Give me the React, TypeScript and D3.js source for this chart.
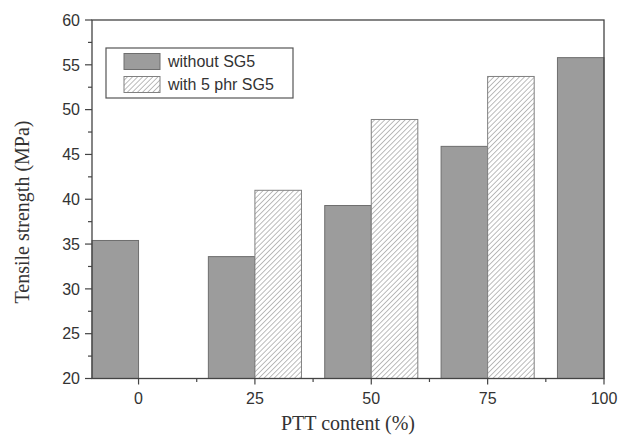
import React, { useEffect, useRef } from 'react';
import * as d3 from 'd3';

const categories = [0, 25, 50, 75, 100];
const withoutSG5 = [35.4, 33.6, 39.3, 45.9, 55.8];
const withSG5: (number | null)[] = [null, 41.0, 48.9, 53.7, null];
const xTicks = [0, 25, 50, 75, 100];
const xMinorTicks = [12.5, 37.5, 62.5, 87.5];
const yTicks = [20, 25, 30, 35, 40, 45, 50, 55, 60];
const yMinorTicks = d3.range(22.5, 60, 5);
const legendLabels = ['without SG5', 'with 5 phr SG5'];

const App = () => {
  const svgRef = useRef<SVGSVGElement>(null);

  useEffect(() => {
    const svg = d3.select(svgRef.current);
    svg.selectAll('*').remove();

    const width = 622;
    const height = 437;
    const margin = { top: 20, right: 18, bottom: 58.5, left: 92 };
    const barW = 10;
    const sans = 'Liberation Sans, Arial, sans-serif';
    const serif = 'Liberation Serif, Times New Roman, serif';

    const x = d3.scaleLinear().domain([-10, 100]).range([margin.left, width - margin.right]);
    const y = d3.scaleLinear().domain([20, 60]).range([height - margin.bottom, margin.top]);

    const defs = svg.append('defs');
    const pat = defs.append('pattern')
      .attr('id', 'hatch')
      .attr('patternUnits', 'userSpaceOnUse')
      .attr('width', 3.6)
      .attr('height', 3.6)
      .attr('patternTransform', 'rotate(45)');
    pat.append('rect').attr('width', 3.6).attr('height', 3.6).attr('fill', '#fff');
    pat.append('line')
      .attr('x1', 0).attr('y1', 0).attr('x2', 0).attr('y2', 3.6)
      .attr('stroke', '#7a7a7a').attr('stroke-width', 1);

    svg.append('rect').attr('width', width).attr('height', height).attr('fill', '#fff');

    // bars
    svg.append('g').selectAll('rect')
      .data(categories.map((c, i) => ({ c, v: withoutSG5[i] })))
      .join('rect')
      .attr('x', d => x(d.c - barW))
      .attr('y', d => y(d.v))
      .attr('width', d => x(d.c) - x(d.c - barW))
      .attr('height', d => y(20) - y(d.v))
      .attr('fill', '#9c9c9c')
      .attr('stroke', '#6e6e6e')
      .attr('stroke-width', 1);

    svg.append('g').selectAll('rect')
      .data(categories.map((c, i) => ({ c, v: withSG5[i] })).filter(d => d.v !== null) as { c: number; v: number }[])
      .join('rect')
      .attr('x', d => x(d.c))
      .attr('y', d => y(d.v))
      .attr('width', d => x(d.c + barW) - x(d.c))
      .attr('height', d => y(20) - y(d.v))
      .attr('fill', 'url(#hatch)')
      .attr('stroke', '#808080')
      .attr('stroke-width', 1);

    // frame
    svg.append('rect')
      .attr('x', margin.left).attr('y', margin.top)
      .attr('width', width - margin.left - margin.right)
      .attr('height', height - margin.top - margin.bottom)
      .attr('fill', 'none').attr('stroke', '#444').attr('stroke-width', 1.3);

    const axisColor = '#444';
    const xAxis = svg.append('g').attr('transform', `translate(0,${y(20)})`);
    xAxis.selectAll('line.major').data(xTicks).join('line')
      .attr('x1', d => x(d)).attr('x2', d => x(d)).attr('y1', 0).attr('y2', 6)
      .attr('stroke', axisColor).attr('stroke-width', 1.2);
    xAxis.selectAll('line.minor').data(xMinorTicks).join('line')
      .attr('x1', d => x(d)).attr('x2', d => x(d)).attr('y1', 0).attr('y2', 3.5)
      .attr('stroke', axisColor).attr('stroke-width', 1.2);
    xAxis.selectAll('text').data(xTicks).join('text')
      .attr('x', d => x(d)).attr('y', 25.5)
      .attr('text-anchor', 'middle')
      .attr('font-family', sans).attr('font-size', 16).attr('fill', '#333')
      .text(d => d);

    const yAxis = svg.append('g').attr('transform', `translate(${margin.left},0)`);
    yAxis.selectAll('line.major').data(yTicks).join('line')
      .attr('x1', -7).attr('x2', 0).attr('y1', d => y(d)).attr('y2', d => y(d))
      .attr('stroke', axisColor).attr('stroke-width', 1.2);
    yAxis.selectAll('line.minor').data(yMinorTicks).join('line')
      .attr('x1', -4).attr('x2', 0).attr('y1', d => y(d)).attr('y2', d => y(d))
      .attr('stroke', axisColor).attr('stroke-width', 1.2);
    yAxis.selectAll('text').data(yTicks).join('text')
      .attr('x', -12).attr('y', d => y(d))
      .attr('dy', '0.36em')
      .attr('text-anchor', 'end')
      .attr('font-family', sans).attr('font-size', 16).attr('fill', '#333')
      .text(d => d);

    // axis titles
    svg.append('text')
      .attr('x', (margin.left + width - margin.right) / 2).attr('y', 430)
      .attr('text-anchor', 'middle')
      .attr('font-family', serif).attr('font-size', 20).attr('fill', '#333')
      .text('PTT content (%)');
    svg.append('text')
      .attr('transform', 'translate(29,212) rotate(-90)')
      .attr('text-anchor', 'middle')
      .attr('font-family', serif).attr('font-size', 20).attr('fill', '#333')
      .text('Tensile strength (MPa)');

    // legend
    const lg = svg.append('g');
    lg.append('rect')
      .attr('x', 106).attr('y', 48).attr('width', 187).attr('height', 50)
      .attr('fill', '#fff').attr('stroke', '#555').attr('stroke-width', 1.2);
    lg.selectAll('rect.sw').data(legendLabels).join('rect')
      .attr('class', 'sw')
      .attr('x', 124).attr('y', (d, i) => 53.5 + i * 23)
      .attr('width', 36).attr('height', 16)
      .attr('fill', (d, i) => (i === 0 ? '#9c9c9c' : 'url(#hatch)'))
      .attr('stroke', (d, i) => (i === 0 ? '#6e6e6e' : '#808080'));
    lg.selectAll('text').data(legendLabels).join('text')
      .attr('x', 168).attr('y', (d, i) => 67 + i * 23)
      .attr('font-family', sans).attr('font-size', 16).attr('fill', '#333')
      .text(d => d);
  }, []);

  return (
    <div>
      <svg ref={svgRef} width={622} height={437} style={{ position: 'absolute', left: 0, top: 0 }}></svg>
    </div>
  );
};

export default App;
